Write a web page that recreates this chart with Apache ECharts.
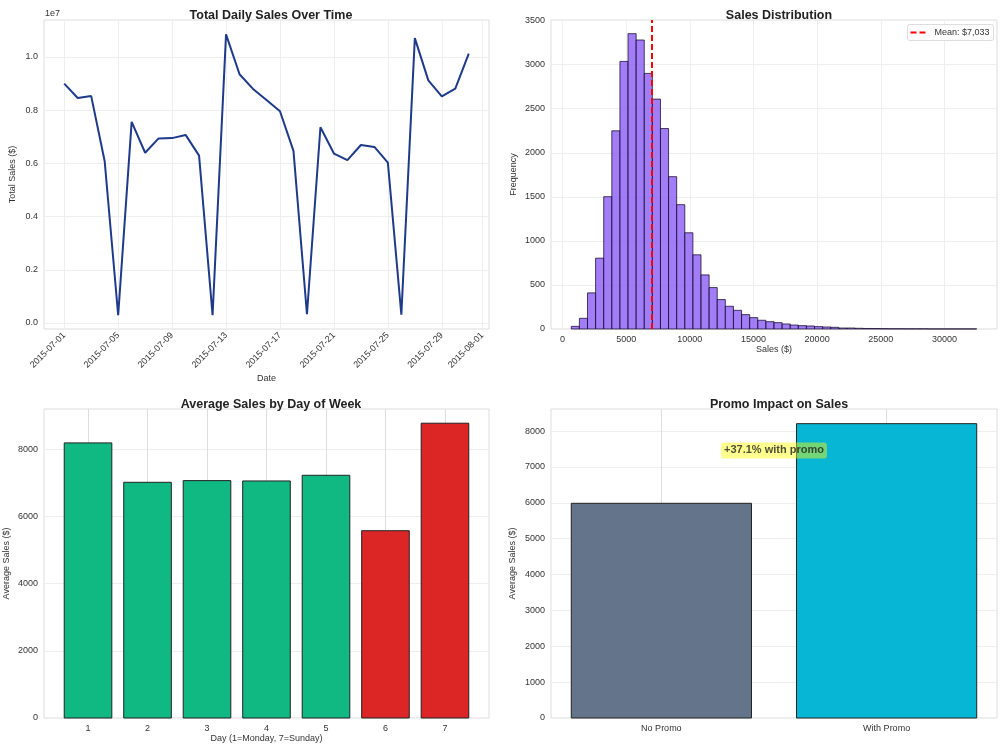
<!DOCTYPE html>
<html>
<head>
<meta charset="utf-8">
<title>Sales dashboard</title>
<script src="https://cdn.jsdelivr.net/npm/echarts@6/dist/echarts.min.js"></script>
<style>
  html, body { margin: 0; padding: 0; background: #fff; }
  #main { width: 1000px; height: 750px; }
</style>
</head>
<body>
<div id="main"></div>
<script>
// daily totals, July 2015
var dates = ['2015-07-01','2015-07-02','2015-07-03','2015-07-04','2015-07-05','2015-07-06','2015-07-07',
  '2015-07-08','2015-07-09','2015-07-10','2015-07-11','2015-07-12','2015-07-13','2015-07-14',
  '2015-07-15','2015-07-16','2015-07-17','2015-07-18','2015-07-19','2015-07-20','2015-07-21',
  '2015-07-22','2015-07-23','2015-07-24','2015-07-25','2015-07-26','2015-07-27','2015-07-28',
  '2015-07-29','2015-07-30','2015-07-31'];
var totalSales = [9000000, 8460000, 8530000, 6080000, 290000, 7560000, 6400000, 6940000, 6950000,
  7070000, 6290000, 290000, 10850000, 9350000, 8800000, 8380000, 7960000, 6470000, 330000,
  7360000, 6370000, 6120000, 6690000, 6620000, 6030000, 310000, 10710000, 9120000, 8520000,
  8810000, 10130000];
var dateTicks = ['2015-07-01','2015-07-05','2015-07-09','2015-07-13','2015-07-17','2015-07-21',
  '2015-07-25','2015-07-29','2015-08-01'];

// histogram of store sales (50 bins)
var binStart = 683;
var binWidth = 637.1;
var histCounts = [30, 121, 410, 804, 1502, 2249, 3037, 3352, 3280, 2901, 2609, 2275, 1729, 1411,
  1092, 842, 614, 470, 334, 258, 212, 163, 129, 99, 83, 72, 57, 45, 38, 34, 27, 23, 19, 11, 11,
  8, 6, 5, 4, 3, 3, 2, 2, 2, 1, 1, 1, 1, 1, 1];
var meanSales = 7033;

// day of week
var days = [1, 2, 3, 4, 5, 6, 7];
var daySales = [8189, 7016, 7066, 7056, 7225, 5575, 8775];

// promo
var promoLabels = ['No Promo', 'With Promo'];
var promoSales = [5985, 8205];

var DAY = 86400000;
function ts(s) {
  var p = s.split('-');
  return new Date(+p[0], +p[1] - 1, +p[2]).getTime();
}
// days since the first date, so the x axis can be a plain value axis
function dayOffset(s) {
  return Math.round((ts(s) - ts(dates[0])) / DAY);
}
function pad(n) { return n < 10 ? '0' + n : '' + n; }
function offsetToDate(v) {
  var d = new Date(ts(dates[0]) + Math.round(v) * DAY);
  return d.getFullYear() + '-' + pad(d.getMonth() + 1) + '-' + pad(d.getDate());
}

var FONT = 'Liberation Sans, Arial, sans-serif';
var faint = { show: true, lineStyle: { color: '#eeeeee', width: 1 } };
var darker = { show: true, lineStyle: { color: '#dddddd', width: 1 } };

function axisBase(gridIndex, opts) {
  var a = {
    gridIndex: gridIndex,
    axisLine: { show: false },
    nameLocation: 'middle',
    nameTextStyle: { fontSize: 9, color: '#333', fontFamily: FONT }
  };
  for (var k in opts) a[k] = opts[k];
  return a;
}
function ticks(values, extra) {
  var lab = {
    customValues: values, margin: 6, fontSize: 9, color: '#333', fontFamily: FONT,
    formatter: function (v) { return String(v); }
  };
  for (var k in extra) lab[k] = extra[k];
  return {
    axisTick: { show: false, customValues: values },
    axisLabel: lab
  };
}
function merge(a, b) {
  for (var k in b) a[k] = b[k];
  return a;
}

var lineData = dates.map(function (d, i) { return [dayOffset(d), totalSales[i]]; });
var histData = histCounts.map(function (c, i) {
  return [binStart + i * binWidth, binStart + (i + 1) * binWidth, c];
});
var dayData = days.map(function (d, i) { return [d, daySales[i]]; });
var promoData = promoSales.map(function (v, i) { return [i, v]; });
var dayColors = ['#10b981', '#10b981', '#10b981', '#10b981', '#10b981', '#dc2626', '#dc2626'];
var promoColors = ['#64748b', '#06b6d4'];
var lift = ((promoSales[1] - promoSales[0]) / promoSales[0] * 100).toFixed(1);
var meanLabel = 'Mean: $' + meanSales.toLocaleString('en-US');

function barItem(colors) {
  return function (params, api) {
    var x = api.value(0);
    var p0 = api.coord([x - 0.4, api.value(1)]);
    var p1 = api.coord([x + 0.4, 0]);
    return {
      type: 'rect',
      shape: { x: p0[0], y: p0[1], width: p1[0] - p0[0], height: p1[1] - p0[1] },
      style: { fill: colors[params.dataIndex], stroke: '#222', lineWidth: 1 }
    };
  };
}

var titleStyle = { fontSize: 12.5, fontWeight: 'bold', color: '#222', fontFamily: FONT };
var gridStyle = { show: true, borderColor: '#dddddd', borderWidth: 1 };
var dashed = { stroke: '#ff0000', lineWidth: 2, lineDash: [6, 3] };

var option = {
  backgroundColor: '#fff',
  animation: false,
  title: [
    { text: 'Total Daily Sales Over Time', left: 266, top: 4, textAlign: 'center', textStyle: titleStyle },
    { text: 'Sales Distribution', left: 774, top: 4, textAlign: 'center', textStyle: titleStyle },
    { text: 'Average Sales by Day of Week', left: 266, top: 393, textAlign: 'center', textStyle: titleStyle },
    { text: 'Promo Impact on Sales', left: 774, top: 393, textAlign: 'center', textStyle: titleStyle }
  ],
  graphic: [
    { type: 'text', left: 45, top: 9, style: { text: '1e7', fontSize: 9, fill: '#333', fontFamily: FONT } },
    // legend box for the mean line
    {
      type: 'group', left: 907, top: 24, z: 100,
      children: [
        { type: 'rect', z: 100, shape: { x: 0, y: 0, width: 86, height: 16, r: 2 },
          style: { fill: '#fff', stroke: '#dddddd', lineWidth: 1 } },
        { type: 'line', z: 101, shape: { x1: 3, y1: 8, x2: 20, y2: 8 }, style: dashed },
        { type: 'text', z: 101, x: 27, y: 3.5,
          style: { text: meanLabel, fontSize: 9, fill: '#333', fontFamily: FONT } }
      ]
    }
  ],
  grid: [
    merge({ left: 44, top: 20, width: 445, height: 309 }, gridStyle),
    merge({ left: 551, top: 20, width: 446, height: 309 }, gridStyle),
    merge({ left: 44, top: 409, width: 445, height: 309 }, gridStyle),
    merge({ left: 551, top: 409, width: 446, height: 309 }, gridStyle)
  ],
  xAxis: [
    axisBase(0, merge({
      type: 'value', min: -1.5, max: dates.length - 1 + 1.5,
      name: 'Date', nameGap: 45,
      splitLine: faint
    }, ticks(dateTicks.map(dayOffset), { rotate: 45, margin: 5, formatter: offsetToDate }))),
    axisBase(1, merge({
      type: 'value', min: -910, max: 34133,
      name: 'Sales ($)', nameGap: 16,
      splitLine: faint
    }, ticks([0, 5000, 10000, 15000, 20000, 25000, 30000]))),
    axisBase(2, merge({
      type: 'value', min: 0.26, max: 7.74,
      name: 'Day (1=Monday, 7=Sunday)', nameGap: 16,
      splitLine: darker
    }, ticks(days))),
    axisBase(3, merge({
      type: 'value', min: -0.49, max: 1.49,
      splitLine: darker
    }, ticks([0, 1], { formatter: function (v) { return promoLabels[Math.round(v)]; } })))
  ],
  yAxis: [
    axisBase(0, merge({
      type: 'value', min: -226000, max: 11390000,
      name: 'Total Sales ($)', nameGap: 27,
      splitLine: faint
    }, ticks([0, 2000000, 4000000, 6000000, 8000000, 10000000],
      { formatter: function (v) { return (v / 1e7).toFixed(1); } }))),
    axisBase(1, merge({
      type: 'value', min: 0, max: 3507,
      name: 'Frequency', nameGap: 33,
      splitLine: faint
    }, ticks([0, 500, 1000, 1500, 2000, 2500, 3000, 3500]))),
    axisBase(2, merge({
      type: 'value', min: 0, max: 9198,
      name: 'Average Sales ($)', nameGap: 33,
      splitLine: faint
    }, ticks([0, 2000, 4000, 6000, 8000]))),
    axisBase(3, merge({
      type: 'value', min: 0, max: 8614,
      name: 'Average Sales ($)', nameGap: 34,
      splitLine: faint
    }, ticks([0, 1000, 2000, 3000, 4000, 5000, 6000, 7000, 8000])))
  ],
  series: [
    {
      type: 'line', xAxisIndex: 0, yAxisIndex: 0,
      data: lineData, showSymbol: false, symbol: 'none',
      lineStyle: { color: '#1e3a8a', width: 2 }
    },
    {
      type: 'custom', xAxisIndex: 1, yAxisIndex: 1,
      data: histData,
      encode: { x: [0, 1], y: 2 },
      renderItem: function (params, api) {
        var p0 = api.coord([api.value(0), api.value(2)]);
        var p1 = api.coord([api.value(1), 0]);
        return {
          type: 'rect',
          shape: { x: p0[0], y: p0[1], width: p1[0] - p0[0], height: p1[1] - p0[1] },
          style: { fill: 'rgba(139,92,246,0.8)', stroke: 'rgba(20,10,40,0.75)', lineWidth: 1 }
        };
      },
      markLine: {
        silent: true, symbol: 'none',
        label: { show: false },
        lineStyle: { color: '#ff0000', width: 2, type: [6, 3] },
        data: [{ xAxis: meanSales }]
      }
    },
    {
      type: 'custom', xAxisIndex: 2, yAxisIndex: 2,
      data: dayData, encode: { x: 0, y: 1 },
      renderItem: barItem(dayColors)
    },
    {
      type: 'custom', xAxisIndex: 3, yAxisIndex: 3,
      data: promoData, encode: { x: 0, y: 1 },
      renderItem: barItem(promoColors)
    },
    {
      type: 'scatter', xAxisIndex: 3, yAxisIndex: 3,
      symbolSize: 0, z: 5,
      data: [[0.5, 7460]],
      label: {
        show: true, position: 'inside',
        formatter: '+' + lift + '% with promo',
        fontSize: 11, fontWeight: 'bold', color: '#222',
        fontFamily: FONT,
        backgroundColor: 'rgba(255,255,0,0.55)',
        borderRadius: 3, padding: [3, 3, 2, 3]
      }
    }
  ]
};

var myChart = echarts.init(document.getElementById('main'));
myChart.setOption(option);
window.onresize = myChart.resize;
</script>
</body>
</html>
